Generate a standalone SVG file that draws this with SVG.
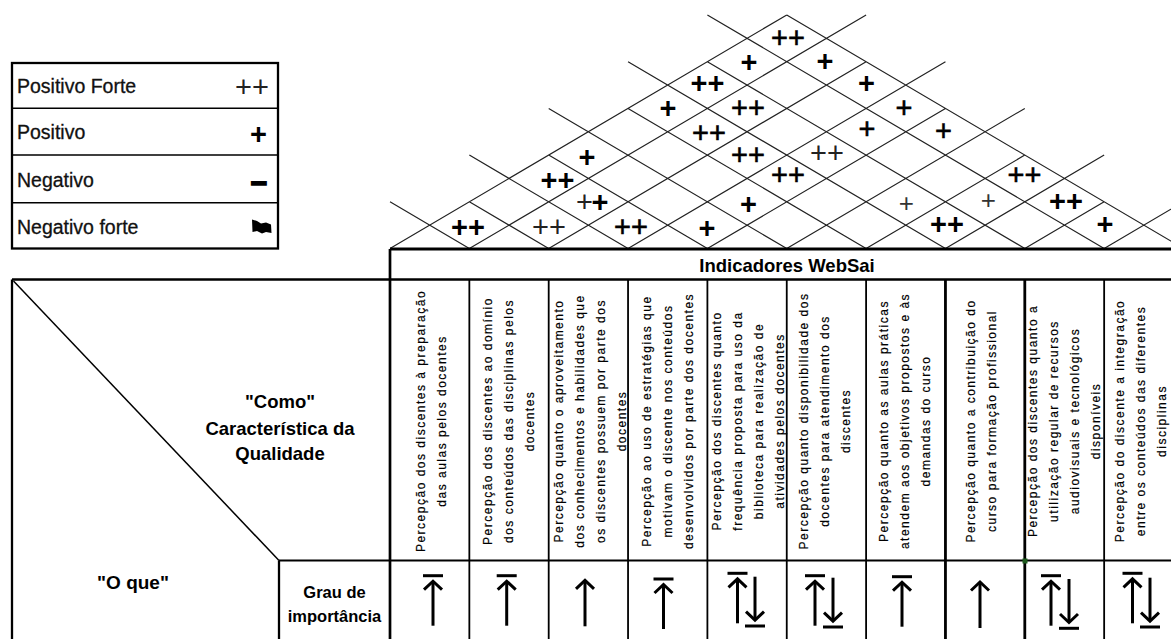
<svg xmlns="http://www.w3.org/2000/svg" xmlns:xlink="http://www.w3.org/1999/xlink" width="1171" height="639" viewBox="0 0 1171 639">
<style>
.bg{fill:#fff}
.rf{stroke:#222;stroke-width:1.2;fill:none}
.ln{stroke:#000;fill:none}
.pb{font-family:"Liberation Sans",Arial,sans-serif;font-size:29px;font-weight:bold;text-anchor:middle;fill:#000}
.pm{font-family:"Liberation Sans",Arial,sans-serif;font-size:29px;text-anchor:middle;fill:#000;stroke:#000;stroke-width:0.6}
.pl{font-family:"Liberation Sans",Arial,sans-serif;font-size:29px;text-anchor:middle;fill:#222}
.ps{font-family:"Liberation Sans",Arial,sans-serif;font-size:26px;text-anchor:middle;fill:#333}
.ct{font-family:"Liberation Sans",Arial,sans-serif;font-size:12px;letter-spacing:1.5px;text-anchor:middle;fill:#000;stroke:#000;stroke-width:0.2}
.hd{font-family:"Liberation Sans",Arial,sans-serif;font-weight:bold;text-anchor:middle;fill:#000}
.lg{font-family:"Liberation Sans",Arial,sans-serif;font-size:19.5px;fill:#111;stroke:#111;stroke-width:0.3}
.ar{stroke:#000;fill:none;stroke-width:3;stroke-linejoin:miter}
</style>
<defs>
<g id="ub">
<path class="ar" d="M-10,0H10" stroke-width="2.6"/>
<path class="ar" d="M0,6V50"/>
<path class="ar" d="M-9,14L0,5.5L9,14"/>
</g>
<g id="u">
<path class="ar" d="M0,0.5V46"/>
<path class="ar" d="M-9,8.5L0,0L9,8.5"/>
</g>
<g id="db">
<path class="ar" d="M0,0V43"/>
<path class="ar" d="M-9,35L0,43.5L9,35"/>
<path class="ar" d="M-10,49.3H10" stroke-width="2.6"/>
</g>
</defs>
<rect class="bg" x="0" y="0" width="1171" height="639"/>

<g id="legend">
<rect class="ln" x="12" y="63" width="266" height="185.5" stroke-width="2.3"/>
<path class="ln" d="M12,108.3H278M12,155H278M12,202.7H278" stroke-width="1.6"/>
<text class="lg" x="17" y="93">Positivo Forte</text>
<text class="lg" x="17" y="139.3">Positivo</text>
<text class="lg" x="17" y="186.7">Negativo</text>
<text class="lg" x="17" y="234">Negativo forte</text>
<text class="pl" x="252" y="96.5" font-size="28">++</text>
<text class="pb" x="258.5" y="144.4" font-size="31">+</text>
<text class="pb" x="259" y="193.3" font-size="32" stroke="#000" stroke-width="1.4">−</text>
<path d="M252,219.5L257,221L261,223.5L266,222.5L271,224.5L271.5,233L266,232L262,233.5L257,231L252.5,232Z" fill="#000"/>
</g>

<g id="roof">
<path class="rf" d="M390,248.5L786.75,15M1183.5,248.5L786.75,15
M469.35,248.5L390,201.8M548.7,248.5L469.35,201.8M628.05,248.5L469.35,155.1M707.4,248.5L548.7,155.1M786.75,248.5L548.7,108.4M866.1,248.5L628.05,108.4M945.45,248.5L628.05,61.7M1024.8,248.5L707.4,61.7M1104.15,248.5L707.4,15
M469.35,248.5L866.1,15M548.7,248.5L866.1,61.7M628.05,248.5L945.45,61.7M707.4,248.5L945.45,108.4M786.75,248.5L1024.8,108.4M866.1,248.5L1024.8,155.1M945.45,248.5L1104.15,155.1M1024.8,248.5L1104.15,201.8M1104.15,248.5L1183.5,201.8"/>
<text class="pb" x="468" y="237.2">++</text>
<text class="pl" x="549" y="237.2">++</text>
<text class="pm" x="631" y="237.2">++</text>
<text class="pb" x="707" y="237.5">+</text>
<text class="pl" x="584.5" y="212">+</text>
<text class="pb" x="600" y="212">+</text>
<text class="pb" x="748.5" y="214">+</text>
<text class="pb" x="557.5" y="190.2">++</text>
<text class="pb" x="587" y="167.2">+</text>
<text class="pm" x="748" y="165.2">++</text>
<text class="pm" x="709" y="142.7">++</text>
<text class="pb" x="668" y="118.2">+</text>
<text class="pm" x="748" y="118.2">++</text>
<text class="pb" x="707.5" y="93.2">++</text>
<text class="pb" x="749" y="71.9">+</text>
<text class="pm" x="788" y="48.2">++</text>
<text class="pb" x="825" y="71.2">+</text>
<text class="pb" x="866.5" y="93.2">+</text>
<text class="pm" x="904" y="117.7">+</text>
<text class="pm" x="867" y="139.2">+</text>
<text class="pm" x="943.5" y="140.9">+</text>
<text class="pl" x="827" y="163.2">++</text>
<text class="pm" x="788" y="185.2">++</text>
<text class="ps" x="906.3" y="212.2">+</text>
<text class="ps" x="988.3" y="209.2">+</text>
<text class="pb" x="947" y="234.2">++</text>
<text class="pm" x="1024.5" y="185.2">++</text>
<text class="pb" x="1066" y="210.9">++</text>
<text class="pb" x="1105" y="234.2">+</text>
</g>

<g id="grid">
<path class="ln" d="M390,249H1171" stroke-width="3"/>
<path class="ln" d="M390,249V639" stroke-width="2.7"/>
<path class="ln" d="M12,279.5H1171" stroke-width="2.3"/>
<path class="ln" d="M12,279.5V639" stroke-width="2.3"/>
<path class="ln" d="M469.35,279.5V639M548.7,279.5V639M628.05,279.5V639M707.4,279.5V639M786.75,279.5V639M866.1,279.5V639M1104.15,279.5V639" stroke-width="1.8"/>
<path class="ln" d="M945.45,279.5V639M1024.8,279.5V639" stroke-width="2.8"/>
<path class="ln" d="M279,560.5H1171" stroke-width="2.2"/>
<path class="ln" d="M279,560.5V639" stroke-width="2.3"/>
<path class="ln" d="M13.5,281L279,560.5" stroke-width="1.5"/>
<rect x="1022.5" y="558.5" width="5" height="5" fill="#1d5a1d"/>
</g>

<g id="header">
<text class="hd" x="787" y="272.3" font-size="18.5">Indicadores WebSai</text>
</g>

<g id="left-panel">
<text class="hd" font-size="18.5"><tspan x="280" y="408">"Como"</tspan><tspan x="280" y="435">Característica da</tspan><tspan x="280" y="460">Qualidade</tspan></text>
<text class="hd" x="133" y="589" font-size="19">"O que"</text>
<text class="hd" font-size="16.5"><tspan x="334.5" y="598">Grau de</tspan><tspan x="334.5" y="621.7">importância</tspan></text>
</g>

<g id="col1"><text class="ct" transform="translate(424.7,421) rotate(-90)"><tspan x="0" y="0">Percepção dos discentes à preparação</tspan><tspan x="0" dy="21">das aulas pelos docentes</tspan></text><use xlink:href="#ub" href="#ub" x="433" y="575.7"/></g>
<g id="col2"><text class="ct" transform="translate(492,421) rotate(-90)"><tspan x="0" y="0">Percepção dos discentes ao domínio</tspan><tspan x="0" dy="21">dos conteúdos das disciplinas pelos</tspan><tspan x="0" dy="21">docentes</tspan></text><use xlink:href="#ub" href="#ub" x="506.7" y="575.7"/></g>
<g id="col3"><text class="ct" transform="translate(562.9,421) rotate(-90)"><tspan x="0" y="0">Percepção quanto o aproveitamento</tspan><tspan x="0" dy="21">dos conhecimentos e habilidades que</tspan><tspan x="0" dy="21">os discentes possuem por parte dos</tspan><tspan x="0" dy="21">docentes</tspan></text><use xlink:href="#u" href="#u" x="585" y="580.3"/></g>
<g id="col4"><text class="ct" transform="translate(650.7,421) rotate(-90)"><tspan x="0" y="0">Percepção ao uso de estratégias que</tspan><tspan x="0" dy="21">motivam o discente nos conteúdos</tspan><tspan x="0" dy="21">desenvolvidos por parte dos docentes</tspan></text><use xlink:href="#ub" href="#ub" x="663.5" y="579"/></g>
<g id="col5"><text class="ct" transform="translate(720.6,421) rotate(-90)"><tspan x="0" y="0">Percepção dos discentes quanto</tspan><tspan x="0" dy="21">frequência proposta para uso da</tspan><tspan x="0" dy="21">biblioteca para realização de</tspan><tspan x="0" dy="21">atividades pelos docentes</tspan></text><use xlink:href="#ub" href="#ub" x="737.5" y="573.3"/><use xlink:href="#db" href="#db" x="755" y="576.7"/></g>
<g id="col6"><text class="ct" transform="translate(808.4,421) rotate(-90)"><tspan x="0" y="0">Percepção quanto disponibilidade dos</tspan><tspan x="0" dy="21">docentes para atendimento dos</tspan><tspan x="0" dy="21">discentes</tspan></text><use xlink:href="#ub" href="#ub" x="815" y="575.7"/><use xlink:href="#db" href="#db" x="833" y="577.7"/></g>
<g id="col7"><text class="ct" transform="translate(887.8,421) rotate(-90)"><tspan x="0" y="0">Percepção quanto as aulas práticas</tspan><tspan x="0" dy="21">atendem aos objetivos propostos e às</tspan><tspan x="0" dy="21">demandas do curso</tspan></text><use xlink:href="#ub" href="#ub" x="902" y="576.7"/></g>
<g id="col8"><text class="ct" transform="translate(974.6,421) rotate(-90)"><tspan x="0" y="0">Percepção quanto a contribuição do</tspan><tspan x="0" dy="21">curso para formação profissional</tspan></text><use xlink:href="#u" href="#u" x="980" y="582"/></g>
<g id="col9"><text class="ct" transform="translate(1037,421) rotate(-90)"><tspan x="0" y="0">Percepção dos discentes quanto a</tspan><tspan x="0" dy="21">utilização regular de recursos</tspan><tspan x="0" dy="21">audiovisuais e tecnológicos</tspan><tspan x="0" dy="21">disponíveis</tspan></text><use xlink:href="#ub" href="#ub" x="1051" y="575.7"/><use xlink:href="#db" href="#db" x="1069" y="579"/></g>
<g id="col10"><text class="ct" transform="translate(1123.8,421) rotate(-90)"><tspan x="0" y="0">Percepção do discente a integração</tspan><tspan x="0" dy="21">entre os conteúdos das diferentes</tspan><tspan x="0" dy="21">disciplinas</tspan></text><use xlink:href="#ub" href="#ub" x="1132.5" y="573.3"/><use xlink:href="#db" href="#db" x="1150" y="577.7"/></g>
</svg>
